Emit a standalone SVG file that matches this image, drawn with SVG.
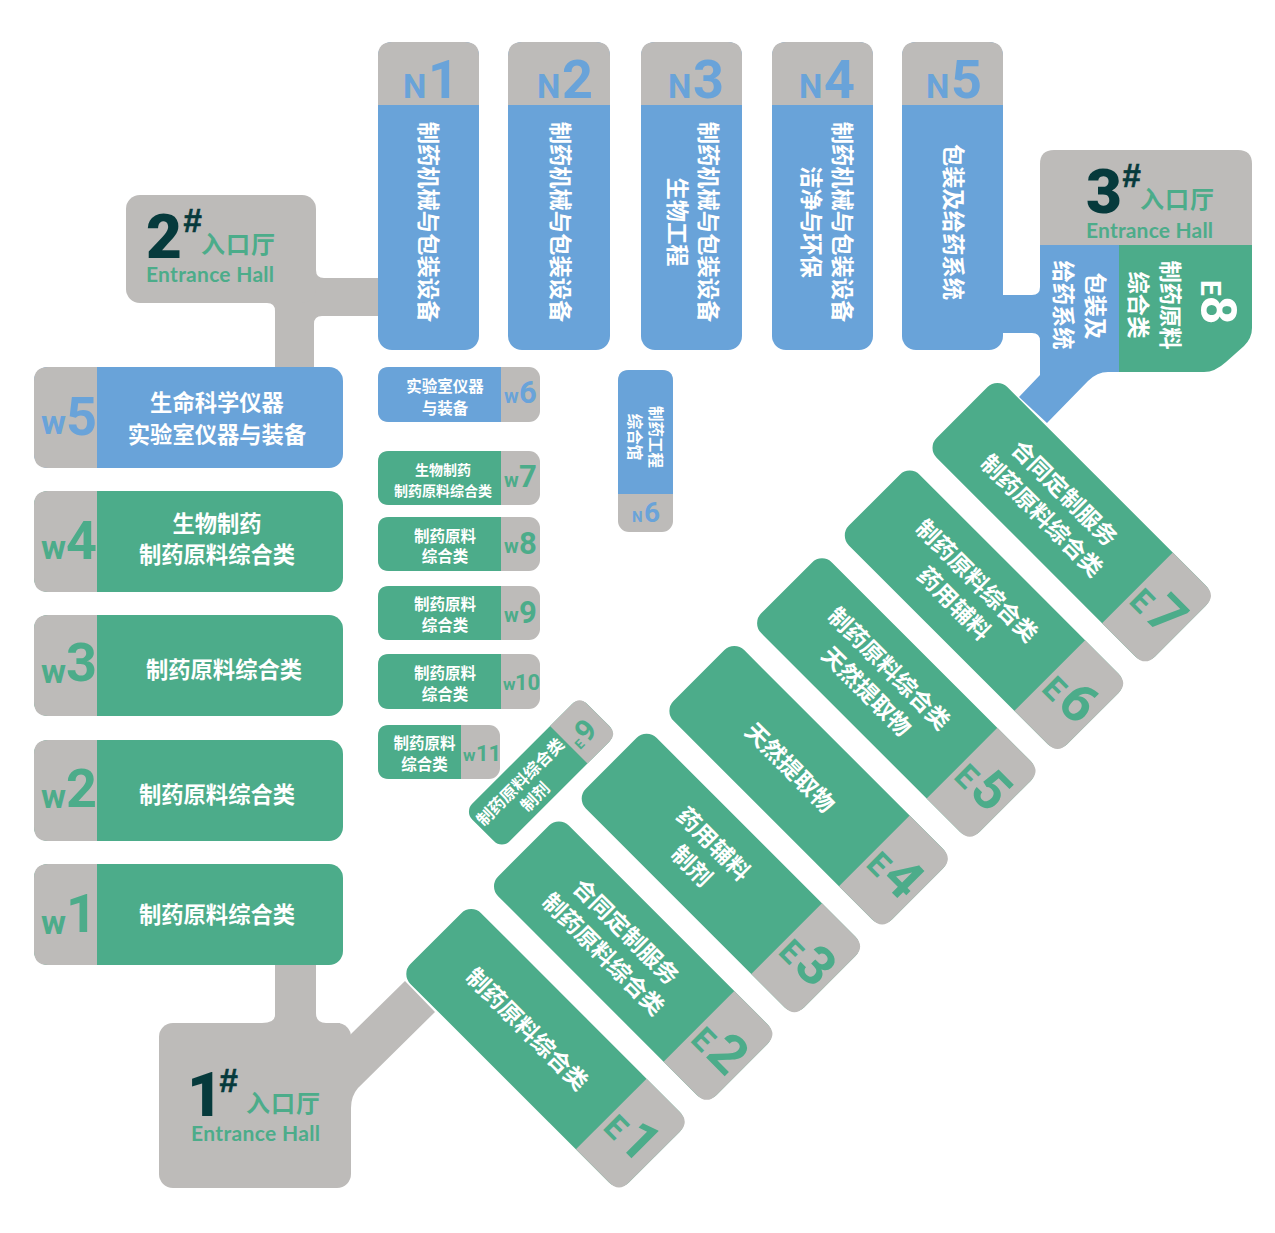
<svg xmlns="http://www.w3.org/2000/svg" width="1275" height="1233" viewBox="0 0 1275 1233">
<defs>
<style>
.g{fill:#4cac8a}.b{fill:#69a3d9}.k{fill:#bdbbb9}.d{fill:#063a3c}
text{font-family:"Noto Sans CJK SC","Noto Sans",sans-serif}
.t{fill:#fff;font-weight:700;text-anchor:middle;dominant-baseline:central;font-size:22.300px;transform:translateY(-2px)}
.s{font-size:15.500px;transform:translateY(-1px)}.xs{font-size:14px;transform:translateY(-1px)}.e{font-size:23px}
.l{font-family:Roboto,"Liberation Sans",sans-serif;font-weight:700}
.big{font-size:54px}.mid{font-size:31px}
.h{font-family:Roboto,"Liberation Sans",sans-serif;font-weight:900;font-size:62px}
.hash{font-family:"Liberation Sans",sans-serif;font-weight:700;font-style:italic;font-size:33px;stroke:#063a3c;stroke-width:.6px}
.rk{font-size:24px;font-weight:700;letter-spacing:1px}
.en{font-family:Lato,"Liberation Sans",sans-serif;font-weight:700;font-size:21px}
</style>
</defs>
<rect width="1275" height="1233" fill="#fff"/>
<g id="connectors">
<path class="k" d="M316,262V270Q316,278 324,278H378V316H322Q314,316 314,324V367H275V311Q275,303 267,303H255V262Z"/>
<path class="k" d="M262,1023Q275,1023 275,1015V965H316V1013Q316,1023 326,1023H340V1040H262Z"/>
<path class="k" d="M345,1040L352,1033L405,981L435,1012L358,1088Q351,1096 351,1108V1120H330V1040Z"/>
<path class="b" d="M1000,295H1032Q1040,295 1040,287V280H1060V345H1040V341Q1040,333 1032,333H1000Z"/>
<path class="b" d="M1040,340V375L1019,397L1047,423L1088,381Q1097,372 1108,372H1119V340Z"/>
</g>

<g id="hall2">
<rect class="k" x="126" y="195" width="190" height="108" rx="14"/>
<text class="h d" x="146" y="258">2</text><text class="hash d" x="183" y="232">#</text>
<text class="rk g" x="201" y="253">入口厅</text>
<text class="en g" x="146" y="282" textLength="128">Entrance Hall</text>
</g>
<g id="hall1">
<rect class="k" x="159" y="1023" width="192" height="165" rx="14"/>
<text class="h d" x="187" y="1116">1</text><text class="hash d" x="219" y="1092">#</text>
<text class="rk g" x="246" y="1112">入口厅</text>
<text class="en g" x="191" y="1141" textLength="129">Entrance Hall</text>
</g>
<g id="hall3-e8">
<path class="k" d="M1040,246V164Q1040,150 1054,150H1238Q1252,150 1252,164V246Z"/>
<rect class="b" x="1040" y="245" width="80" height="127"/>
<path class="g" d="M1119,245H1252V328Q1252,338 1244,346L1226,362Q1215,372 1204,372H1119Z"/>
<text class="h d" x="1086" y="213">3</text><text class="hash d" x="1122" y="187">#</text>
<text class="rk g" x="1140" y="208">入口厅</text>
<text class="en g" x="1086" y="238" textLength="127">Entrance Hall</text>
<g transform="translate(1095,306) rotate(90)"><text class="t">包装及</text></g>
<g transform="translate(1063,305) rotate(90)"><text class="t">给药系统</text></g>
<g transform="translate(1170,305) rotate(90)"><text class="t">制药原料</text></g>
<g transform="translate(1138,305) rotate(90)"><text class="t">综合类</text></g>
<g transform="translate(1201,280) rotate(90)"><text class="l" font-size="28" fill="#fff">E<tspan font-size="50">8</tspan></text></g>
</g>

<g id="n1"><rect class="b" x="378" y="42" width="101" height="308" rx="14"/><path class="k" d="M378,105V56Q378,42 392,42H465Q479,42 479,56V105Z"/>
<text class="l b" x="403" y="98" style="font-size:33px">N</text><text class="l b big" x="428" y="98">1</text>
<g transform="translate(428,222) rotate(90)"><text class="t">制药机械与包装设备</text></g></g>
<g id="n2"><rect class="b" x="508" y="42" width="102" height="308" rx="14"/><path class="k" d="M508,105V56Q508,42 522,42H596Q610,42 610,56V105Z"/>
<text class="l b" x="537" y="98" style="font-size:33px">N</text><text class="l b big" x="562" y="98">2</text>
<g transform="translate(560,222) rotate(90)"><text class="t">制药机械与包装设备</text></g></g>
<g id="n3"><rect class="b" x="641" y="42" width="101" height="308" rx="14"/><path class="k" d="M641,105V56Q641,42 655,42H728Q742,42 742,56V105Z"/>
<text class="l b" x="668" y="98" style="font-size:33px">N</text><text class="l b big" x="693" y="98">3</text>
<g transform="translate(708,222) rotate(90)"><text class="t">制药机械与包装设备</text></g>
<g transform="translate(677,222) rotate(90)"><text class="t">生物工程</text></g></g>
<g id="n4"><rect class="b" x="772" y="42" width="101" height="308" rx="14"/><path class="k" d="M772,105V56Q772,42 786,42H859Q873,42 873,56V105Z"/>
<text class="l b" x="799" y="98" style="font-size:33px">N</text><text class="l b big" x="824" y="98">4</text>
<g transform="translate(842,222) rotate(90)"><text class="t">制药机械与包装设备</text></g>
<g transform="translate(811,222) rotate(90)"><text class="t">洁净与环保</text></g></g>
<g id="n5"><rect class="b" x="902" y="42" width="101" height="308" rx="14"/><path class="k" d="M902,105V56Q902,42 916,42H989Q1003,42 1003,56V105Z"/>
<text class="l b" x="926" y="98" style="font-size:33px">N</text><text class="l b big" x="951" y="98">5</text>
<g transform="translate(953,222) rotate(90)"><text class="t">包装及给药系统</text></g></g>
<g id="n6"><rect class="k" x="618" y="370" width="55" height="162" rx="11"/><path class="b" d="M618,494V381Q618,370 629,370H662Q673,370 673,381V494Z"/>
<text class="l b" x="632" y="522" style="font-size:15px">N</text><text class="l b" x="644" y="522" style="font-size:28px">6</text>
<g transform="translate(656,437) rotate(90)"><text class="t s">制药工程</text></g>
<g transform="translate(635,437) rotate(90)"><text class="t s">综合馆</text></g></g>

<g id="w5"><rect class="b" x="34" y="367" width="309" height="101" rx="14"/><path class="k" d="M97,367V468H48Q34,468 34,454V381Q34,367 48,367Z"/>
<text class="l b" x="41" y="434" style="font-size:34px">w</text><text class="l b big" x="66" y="435">5</text>
<text class="t" x="217" y="403">生命科学仪器</text><text class="t" x="217" y="435">实验室仪器与装备</text></g>
<g id="w4"><rect class="g" x="34" y="491" width="309" height="101" rx="14"/><path class="k" d="M97,491V592H48Q34,592 34,578V505Q34,491 48,491Z"/>
<text class="l g" x="41" y="559" style="font-size:34px">w</text><text class="l g big" x="66" y="559">4</text>
<text class="t" x="217" y="524">生物制药</text><text class="t" x="217" y="555">制药原料综合类</text></g>
<g id="w3"><rect class="g" x="34" y="615" width="309" height="101" rx="14"/><path class="k" d="M97,615V716H48Q34,716 34,702V629Q34,615 48,615Z"/>
<text class="l g" x="41" y="683" style="font-size:34px">w</text><text class="l g big" x="66" y="681">3</text>
<text class="t" x="224" y="670">制药原料综合类</text></g>
<g id="w2"><rect class="g" x="34" y="740" width="309" height="101" rx="14"/><path class="k" d="M97,740V841H48Q34,841 34,827V754Q34,740 48,740Z"/>
<text class="l g" x="41" y="808" style="font-size:34px">w</text><text class="l g big" x="66" y="807">2</text>
<text class="t" x="217" y="795">制药原料综合类</text></g>
<g id="w1"><rect class="g" x="34" y="864" width="309" height="101" rx="14"/><path class="k" d="M97,864V965H48Q34,965 34,951V878Q34,864 48,864Z"/>
<text class="l g" x="41" y="934" style="font-size:34px">w</text><text class="l g big" x="66" y="932">1</text>
<text class="t" x="217" y="915">制药原料综合类</text></g>

<g id="w6"><rect class="k" x="378" y="367" width="162" height="55" rx="11"/><path class="b" d="M501,367V422H389Q378,422 378,411V378Q378,367 389,367Z"/>
<text class="l b" x="504" y="403" style="font-size:20px">w</text><text class="l b mid" x="519" y="403">6</text>
<text class="t s" x="445" y="386">实验室仪器</text><text class="t s" x="445" y="408">与装备</text></g>
<g id="w7"><rect class="k" x="378" y="451" width="162" height="54" rx="11"/><path class="g" d="M501,451V505H389Q378,505 378,494V462Q378,451 389,451Z"/>
<text class="l g" x="504" y="487" style="font-size:20px">w</text><text class="l g mid" x="519" y="487">7</text>
<text class="t xs" x="443" y="470">生物制药</text><text class="t xs" x="443" y="491">制药原料综合类</text></g>
<g id="w8"><rect class="k" x="378" y="517" width="162" height="54" rx="11"/><path class="g" d="M501,517V571H389Q378,571 378,560V528Q378,517 389,517Z"/>
<text class="l g" x="504" y="553" style="font-size:20px">w</text><text class="l g mid" x="519" y="554">8</text>
<text class="t s" x="445" y="536">制药原料</text><text class="t s" x="445" y="556">综合类</text></g>
<g id="w9"><rect class="k" x="378" y="586" width="162" height="54" rx="11"/><path class="g" d="M501,586V640H389Q378,640 378,629V597Q378,586 389,586Z"/>
<text class="l g" x="504" y="622" style="font-size:20px">w</text><text class="l g mid" x="519" y="623">9</text>
<text class="t s" x="445" y="604">制药原料</text><text class="t s" x="445" y="625">综合类</text></g>
<g id="w10"><rect class="k" x="378" y="654" width="162" height="55" rx="11"/><path class="g" d="M501,654V709H389Q378,709 378,698V665Q378,654 389,654Z"/>
<text class="l g" x="503" y="690" style="font-size:17px">w</text><text class="l g" x="515" y="690" style="font-size:22px">10</text>
<text class="t s" x="445" y="673">制药原料</text><text class="t s" x="445" y="694">综合类</text></g>
<g id="w11"><rect class="k" x="378" y="725" width="122" height="54" rx="11"/><path class="g" d="M461,725V779H389Q378,779 378,768V736Q378,725 389,725Z"/>
<text class="l g" x="463" y="761" style="font-size:17px">w</text><text class="l g" x="476" y="761" style="font-size:22px">11</text>
<text class="t s" x="424.500" y="743">制药原料</text><text class="t s" x="424.500" y="764">综合类</text></g>

<g id="e1" transform="translate(545.100,1047.900) rotate(45)"><rect class="g" x="-154.500" y="-50" width="309" height="100" rx="14"/><path class="k" d="M93.500,-50H140.500Q154.500,-50 154.500,-36V36Q154.500,50 140.500,50H93.500Z"/>
<text class="l g" x="97" y="17" style="font-size:32px">E</text><text class="l g big" x="118" y="17">1</text>
<text class="t e" x="-26" y="0">制药原料综合类</text></g>
<g id="e2" transform="translate(632.800,960.200) rotate(45)"><rect class="g" x="-154.500" y="-50" width="309" height="100" rx="14"/><path class="k" d="M93.500,-50H140.500Q154.500,-50 154.500,-36V36Q154.500,50 140.500,50H93.500Z"/>
<text class="l g" x="97" y="17" style="font-size:32px">E</text><text class="l g big" x="118" y="17">2</text>
<text class="t e" x="-25" y="-15">合同定制服务</text><text class="t e" x="-25" y="17">制药原料综合类</text></g>
<g id="e3" transform="translate(720.500,872.500) rotate(45)"><rect class="g" x="-154.500" y="-50" width="309" height="100" rx="14"/><path class="k" d="M93.500,-50H140.500Q154.500,-50 154.500,-36V36Q154.500,50 140.500,50H93.500Z"/>
<text class="l g" x="97" y="17" style="font-size:32px">E</text><text class="l g big" x="118" y="17">3</text>
<text class="t e" x="-25" y="-15">药用辅料</text><text class="t e" x="-25" y="16">制剂</text></g>
<g id="e4" transform="translate(808.200,784.800) rotate(45)"><rect class="g" x="-154.500" y="-50" width="309" height="100" rx="14"/><path class="k" d="M93.500,-50H140.500Q154.500,-50 154.500,-36V36Q154.500,50 140.500,50H93.500Z"/>
<text class="l g" x="97" y="17" style="font-size:32px">E</text><text class="l g big" x="118" y="17">4</text>
<text class="t e" x="-25" y="1">天然提取物</text></g>
<g id="e5" transform="translate(895.900,697.100) rotate(45)"><rect class="g" x="-154.500" y="-50" width="309" height="100" rx="14"/><path class="k" d="M93.500,-50H140.500Q154.500,-50 154.500,-36V36Q154.500,50 140.500,50H93.500Z"/>
<text class="l g" x="97" y="17" style="font-size:32px">E</text><text class="l g big" x="118" y="17">5</text>
<text class="t e" x="-25" y="-15">制药原料综合类</text><text class="t e" x="-25" y="17">天然提取物</text></g>
<g id="e6" transform="translate(983.600,609.400) rotate(45)"><rect class="g" x="-154.500" y="-50" width="309" height="100" rx="14"/><path class="k" d="M93.500,-50H140.500Q154.500,-50 154.500,-36V36Q154.500,50 140.500,50H93.500Z"/>
<text class="l g" x="97" y="17" style="font-size:32px">E</text><text class="l g big" x="118" y="17">6</text>
<text class="t e" x="-25" y="-15">制药原料综合类</text><text class="t e" x="-25" y="17">药用辅料</text></g>
<g id="e7" transform="translate(1071.300,521.700) rotate(45)"><rect class="g" x="-154.500" y="-50" width="309" height="100" rx="14"/><path class="k" d="M93.500,-50H140.500Q154.500,-50 154.500,-36V36Q154.500,50 140.500,50H93.500Z"/>
<text class="l g" x="97" y="17" style="font-size:32px">E</text><text class="l g big" x="118" y="17">7</text>
<text class="t e" x="-25" y="-15">合同定制服务</text><text class="t e" x="-25" y="17">制药原料综合类</text></g>
<g id="e9" transform="translate(540.750,772.750) rotate(-45)"><rect class="g" x="-81.500" y="-26.500" width="163" height="53" rx="11"/><path class="k" d="M39.600,-26.500H70.500Q81.500,-26.500 81.500,-15.500V15.500Q81.500,26.500 70.500,26.500H39.600Z"/>
<text class="l g" x="44" y="12" style="font-size:13px">E</text><text class="l g" x="53" y="12" style="font-size:30px">9</text>
<text class="t" style="font-size:16.500px;transform:translateY(-1px)" x="-21" y="-8">制药原料综合类</text><text class="t" style="font-size:16.500px;transform:translateY(-1px)" x="-21" y="13">制剂</text></g>
</svg>
